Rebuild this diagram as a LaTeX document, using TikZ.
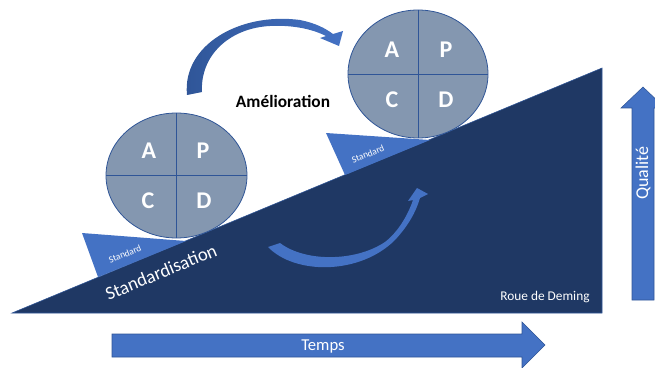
\documentclass[tikz,border=0pt]{standalone}
\usepackage{fontspec}
\setmainfont{Carlito}
\definecolor{navy}{RGB}{31,56,100}
\definecolor{midblue}{RGB}{68,114,196}
\definecolor{darkblue}{RGB}{47,85,151}
\definecolor{pdcafill}{RGB}{132,151,176}

\tikzset{every picture/.style={line width=0.75pt}}
\tikzset{
  pdcawheel/.style={fill=pdcafill, draw=darkblue, line width=0.6pt},
  pdcaletter/.style={text=white, inner sep=0pt, font=\fontsize{18}{18}\selectfont\bfseries},
  wedge/.style={fill=midblue},
  bigarrow/.style={fill=midblue, draw=darkblue, line width=0.4pt},
  whitelabel/.style={text=white, inner sep=0.75pt}
}

\begin{document}
\begin{tikzpicture}[x=0.75pt,y=0.75pt,yscale=-1,xscale=1]
\useasboundingbox (0,0) rectangle (655,367);

%Shape: Right Triangle [id:slope] 
\draw [fill=navy, draw=darkblue, line width=0.4pt] (12,313) -- (602,68) -- (602,313) -- cycle ;
%Shape: Triangle [id:standard1] 
\fill [wedge] (82,233) -- (186,241) -- (98,277) -- cycle ;
%Shape: Triangle [id:standard2] 
\fill [wedge] (326,133) -- (430,140) -- (345,175) -- cycle ;

%Shape: Ellipse [id:wheel1] 
\draw [pdcawheel] (176.5,175.5) ellipse [x radius=70.5, y radius=62.5] ;
\draw [darkblue, line width=0.6pt] (106,175.5) -- (247,175.5) (176.5,113) -- (176.5,238) ;
%Shape: Ellipse [id:wheel2] 
\draw [pdcawheel] (418,74) ellipse [x radius=70, y radius=64] ;
\draw [darkblue, line width=0.6pt] (348,74) -- (488,74) (418,10) -- (418,138) ;

%Curve Arrow [id:improve] 
\shade [left color=darkblue, right color=midblue] (187,95) .. controls (182,45) and (240,12) .. (300,20) .. controls (315,23) and (325,28) .. (333,34) -- (343,31) -- (339,46) -- (320,38) -- (326,36) .. controls (310,28) and (290,25) .. (270,26) .. controls (230,28) and (200,55) .. (202,92) -- cycle ;
%Curve Arrow [id:standardize] 
\fill [midblue] (268,247) .. controls (295,275) and (360,275) .. (395,240) .. controls (408,226) and (416,212) .. (420,198) -- (428,194) -- (417,188) -- (408,201) -- (413,200) .. controls (408,215) and (398,232) .. (385,242) .. controls (355,262) and (305,262) .. (280,243) -- cycle ;

%Block Arrow [id:time] 
\draw [bigarrow] (112,334) -- (522,334) -- (522,322) -- (545,345) -- (522,368) -- (522,357) -- (112,357) -- cycle ;
%Block Arrow [id:quality] 
\draw [bigarrow] (632,300) -- (632,108) -- (621,108) -- (643,87) -- (665,108) -- (654,108) -- (654,300) -- cycle ;

% Text Node
\node [pdcaletter] (a1) at (149,151) {A};
\node [pdcaletter] (p1) at (203,151) {P};
\node [pdcaletter] (c1) at (148,201) {C};
\node [pdcaletter] (d1) at (204,201) {D};
% Text Node
\node [pdcaletter] (a2) at (392,50) {A};
\node [pdcaletter] (p2) at (446,50) {P};
\node [pdcaletter] (c2) at (392,100) {C};
\node [pdcaletter] (d2) at (446,100) {D};
% Text Node
\node [inner sep=0.75pt, font=\fontsize{13}{13}\selectfont\bfseries] (amelio) at (283,101) {Amélioration};
% Text Node
\node [whitelabel, rotate=22.5, font=\fontsize{7}{7}\selectfont] (std1) at (125,254) {Standard};
\node [whitelabel, rotate=22.5, font=\fontsize{7}{7}\selectfont] (std2) at (368,154) {Standard};
% Text Node
\node [whitelabel, rotate=22.5, font=\fontsize{14}{14}\selectfont] (stdisation) at (161,272) {Standardisation};
% Text Node
\node [whitelabel, font=\fontsize{10}{10}\selectfont] (deming) at (545,297) {Roue de Deming};
% Text Node
\node [whitelabel, font=\fontsize{12.5}{12.5}\selectfont] (temps) at (323,346) {Temps};
% Text Node
\node [whitelabel, rotate=90, font=\fontsize{13.5}{13.5}\selectfont] (qualite) at (643,173) {Qualité};

\end{tikzpicture}
\end{document}
